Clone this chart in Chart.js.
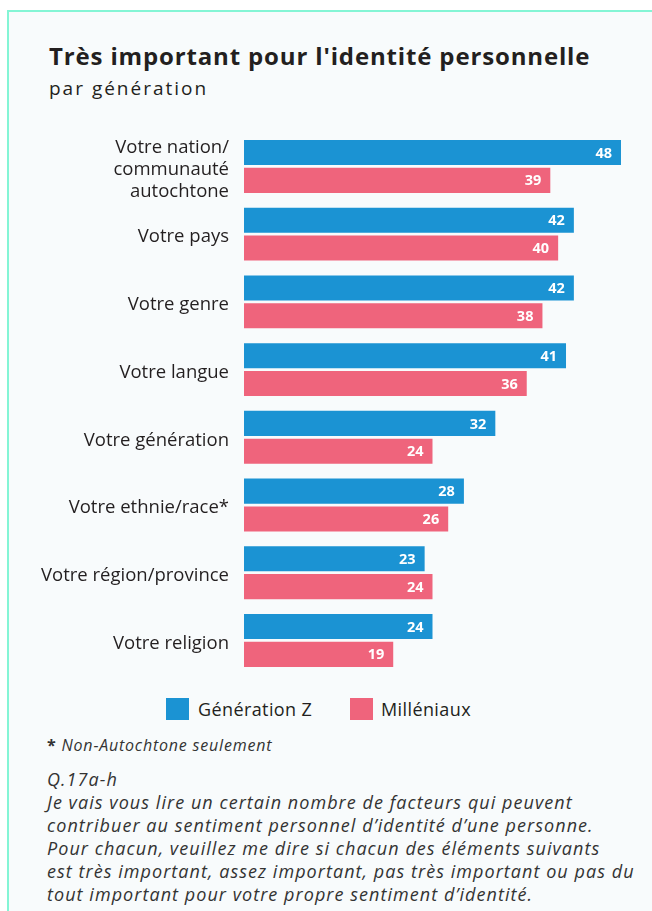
<!DOCTYPE html>
<html lang="fr">
<head>
<meta charset="utf-8">
<title>Très important pour l'identité personnelle</title>
<script src="https://cdn.jsdelivr.net/npm/chart.js@4/dist/chart.umd.min.js"></script>
<style>
  html, body { margin: 0; padding: 0; background: #ffffff; }
  body { width: 652px; height: 911px; position: relative; overflow: hidden; font-family: "Open Sans", "Noto Sans", sans-serif; color: #231f20; }
  .card { position: absolute; left: 7px; top: 10px; width: 700px; height: 1000px; background: #f8fbfc; border-left: 2px solid #84f5d5; border-top: 2px solid #84f5d5; }
  .title { position: absolute; left: 49px; top: 41px; font-size: 24px; line-height: 30px; font-weight: 700; letter-spacing: 0.85px; white-space: nowrap; }
  .subtitle { position: absolute; left: 49px; top: 77px; font-size: 19px; line-height: 22px; letter-spacing: 2px; white-space: nowrap; }
  #wrap { position: absolute; left: 0; top: 120px; width: 652px; height: 560px; }
  .legend { position: absolute; top: 698px; left: 0; height: 22px; font-size: 18px; letter-spacing: 0.4px; }
  .legend span.item { position: absolute; top: 0; white-space: nowrap; line-height: 22px; }
  .legend span.box { position: absolute; top: 0; width: 23px; height: 22px; }
  .note { position: absolute; left: 47px; top: 735px; font-size: 16px; line-height: 20px; letter-spacing: 0.8px; white-space: nowrap; color: #333; }
  .question { position: absolute; left: 47px; top: 768px; font-size: 18px; line-height: 23px; letter-spacing: 1.05px; font-style: italic; white-space: nowrap; color: #333; }
</style>
</head>
<body>
<div class="card"></div>
<div class="title">Très important pour l'identité personnelle</div>
<div class="subtitle">par génération</div>
<div id="wrap"><canvas id="chart" width="652" height="560"></canvas></div>
<div class="legend" id="legend"></div>
<div class="note"><b>*</b> <i>Non-Autochtone seulement</i></div>
<div class="question">Q.17a-h<br>Je vais vous lire un certain nombre de facteurs qui peuvent<br>contribuer au sentiment personnel d’identité d’une personne.<br>Pour chacun, veuillez me dire si chacun des éléments suivants<br>est très important, assez important, pas très important ou pas du<br>tout important pour votre propre sentiment d’identité.</div>
<script>
// Identity factors (multi-line labels as arrays)
const categories = [
  ["Votre nation/", "communauté", "autochtone"],
  "Votre pays",
  "Votre genre",
  "Votre langue",
  "Votre génération",
  "Votre ethnie/race*",
  "Votre région/province",
  "Votre religion"
];

// Share saying "very important" (%)
const genZ = [48, 42, 42, 41, 32, 28, 23, 24];
const millennials = [39, 40, 38, 36, 24, 26, 24, 19];

const seriesNames = ["Génération Z", "Milléniaux"];
const seriesColors = ["#1b93d3", "#ef647c"];

// White value labels drawn at the inner end of each bar
const valueLabels = {
  id: "valueLabels",
  afterDatasetsDraw(chart) {
    const ctx = chart.ctx;
    ctx.save();
    ctx.fillStyle = "#ffffff";
    ctx.font = "700 14.5px 'Open Sans', 'Noto Sans', sans-serif";
    ctx.textAlign = "right";
    ctx.textBaseline = "middle";
    chart.data.datasets.forEach((ds, i) => {
      const meta = chart.getDatasetMeta(i);
      meta.data.forEach((bar, j) => {
        ctx.fillText(String(ds.data[j]), bar.x - 9, bar.y + 1);
      });
    });
    ctx.restore();
  }
};

const chart = new Chart(document.getElementById("chart"), {
  type: "bar",
  data: {
    labels: categories,
    datasets: [
      { label: seriesNames[0], data: genZ, backgroundColor: seriesColors[0] },
      { label: seriesNames[1], data: millennials, backgroundColor: seriesColors[1] }
    ]
  },
  options: {
    indexAxis: "y",
    responsive: false,
    animation: false,
    devicePixelRatio: 1,
    categoryPercentage: 0.822,
    barPercentage: 0.9,
    layout: { padding: { top: 12.6, bottom: 5.7, left: 0, right: 15.3 } },
    plugins: {
      legend: { display: false },
      tooltip: { enabled: false }
    },
    scales: {
      x: { display: false, min: 0, max: 50 },
      y: {
        grid: { display: false, drawTicks: false },
        border: { display: false },
        ticks: {
          autoSkip: false,
          padding: 15,
          labelOffset: 3,
          color: "#231f20",
          font: { family: "'Open Sans', 'Noto Sans', sans-serif", size: 18.5, lineHeight: 1.2 }
        },
        afterFit(scale) {
          scale.width = 244;
          scale.paddingTop = 0;
          scale.paddingBottom = 0;
        }
      }
    }
  },
  plugins: [valueLabels]
});

// Legend built from the series names and colours
const legend = document.getElementById("legend");
const legendPos = [{ box: 166, text: 198 }, { box: 350, text: 381 }];
seriesNames.forEach((name, i) => {
  const box = document.createElement("span");
  box.className = "box";
  box.style.left = legendPos[i].box + "px";
  box.style.background = seriesColors[i];
  legend.appendChild(box);
  const item = document.createElement("span");
  item.className = "item";
  item.style.left = legendPos[i].text + "px";
  item.textContent = name;
  legend.appendChild(item);
});
</script>
</body>
</html>
